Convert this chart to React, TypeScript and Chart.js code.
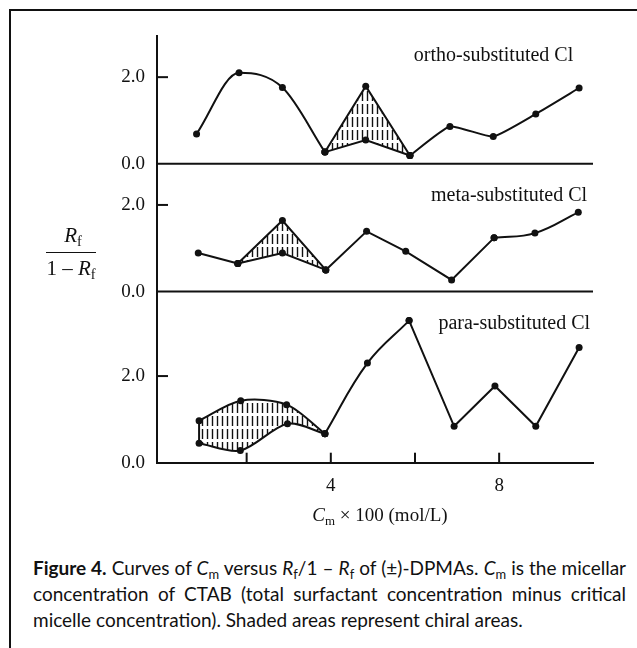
import React, { useEffect, useRef } from 'react';
import { Chart, registerables } from 'chart.js';

Chart.register(...registerables);

const INK = '#111111';
const SERIF = '"Liberation Serif", "Times New Roman", serif';

// ---------- data ----------
// ortho-substituted Cl
const ORTHO_ARC_X = [0.81, 1.82, 2.85, 3.86];
const ORTHO_ARC_Y = [0.69, 2.1, 1.76, 0.27];
const ORTHO_LOOP_X = [3.86, 4.83, 5.88];
const ORTHO_UPPER_Y = [0.27, 1.79, 0.19];
const ORTHO_LOWER_Y = [0.27, 0.55, 0.19];
const ORTHO_TAIL_X = [5.88, 6.83, 7.86, 8.87, 9.9];
const ORTHO_TAIL_Y = [0.19, 0.86, 0.63, 1.15, 1.75];

// meta-substituted Cl
const META_HEAD_X = [0.85, 1.79];
const META_HEAD_Y = [0.89, 0.65];
const META_LOOP_X = [1.79, 2.85, 3.88];
const META_UPPER_Y = [0.65, 1.64, 0.5];
const META_LOWER_Y = [0.65, 0.89, 0.5];
const META_MID_X = [3.88, 4.85, 5.78, 6.87, 7.88];
const META_MID_Y = [0.5, 1.39, 0.93, 0.27, 1.24];
const META_TAIL_X = [7.88, 8.85, 9.88];
const META_TAIL_Y = [1.24, 1.35, 1.83];

// para-substituted Cl
const PARA_UPPER_X = [0.87, 1.86, 2.95, 3.86];
const PARA_UPPER_Y = [0.97, 1.43, 1.34, 0.67];
const PARA_LOWER_X = [0.87, 1.85, 2.97, 3.86];
const PARA_LOWER_Y = [0.45, 0.28, 0.9, 0.67];
const PARA_EDGE_X = [0.87, 0.87];
const PARA_EDGE_Y = [0.97, 0.45];
const PARA_RISE_X = [3.86, 4.87, 5.86];
const PARA_RISE_Y = [0.67, 2.3, 3.28];
const PARA_TAIL_X = [5.86, 6.93, 7.9, 8.87, 9.9];
const PARA_TAIL_Y = [3.28, 0.84, 1.77, 0.84, 2.66];

// ticks & labels
const X_TICKS = [2, 4, 6, 8];
const X_TICK_LABELS = [4, 8];
const Y_TICKS = [0, 2];
const PANEL_TITLES = ['ortho-substituted Cl', 'meta-substituted Cl', 'para-substituted Cl'];
const PANEL_AXES = ['yO', 'yM', 'yP'];

const pts = (xs: number[], ys: number[]) => xs.map((x, i) => ({ x, y: ys[i] }));

function makeHatch(): CanvasPattern | string {
  const c = document.createElement('canvas');
  c.width = 5;
  c.height = 13;
  const g = c.getContext('2d');
  if (!g) return 'rgba(0,0,0,0.3)';
  g.strokeStyle = INK;
  g.lineWidth = 1.4;
  g.beginPath();
  g.moveTo(2.5, 0);
  g.lineTo(2.5, 10);
  g.stroke();
  return g.createPattern(c, 'repeat') || 'rgba(0,0,0,0.3)';
}

const decorPlugin = {
  id: 'decor',
  afterDraw(chart: any, _args: any, opts: any) {
    const { ctx, chartArea, scales } = chart;
    const { left, right, bottom } = chartArea;
    ctx.save();
    ctx.strokeStyle = INK;
    ctx.lineWidth = 2;
    const seg = (x1: number, y1: number, x2: number, y2: number) => {
      ctx.beginPath();
      ctx.moveTo(x1, y1);
      ctx.lineTo(x2, y2);
      ctx.stroke();
    };
    ['yO', 'yM'].forEach((id) => {
      const y = scales[id].getPixelForValue(0);
      seg(left, y, right, y);
    });
    PANEL_AXES.forEach((id) => {
      const y = scales[id].getPixelForValue(2);
      seg(left, y, left + 11, y);
    });
    X_TICKS.forEach((v) => {
      const x = scales.x.getPixelForValue(v);
      seg(x, bottom, x, bottom - 10);
    });
    ctx.fillStyle = INK;
    ctx.font = `20px ${SERIF}`;
    ctx.textAlign = 'right';
    ctx.textBaseline = 'alphabetic';
    PANEL_TITLES.forEach((t, i) => {
      const a = opts.anchors[i];
      ctx.fillText(t, scales.x.getPixelForValue(a.x), scales[PANEL_AXES[i]].getPixelForValue(a.y));
    });
    ctx.restore();
  },
};

function yScale(weight: number, max: number, order: number) {
  return {
    type: 'linear',
    position: 'left',
    stack: 'panels',
    stackWeight: weight,
    weight: order,
    min: 0,
    max,
    afterBuildTicks: (s: any) => {
      s.ticks = Y_TICKS.map((v) => ({ value: v }));
    },
    afterFit: (s: any) => {
      s.width = 157;
    },
    grid: { display: false, drawTicks: false },
    border: { display: true, color: INK, width: 2 },
    ticks: {
      autoSkip: false,
      padding: 12,
      color: INK,
      font: { family: SERIF, size: 19 },
      callback: (v: number) => v.toFixed(1),
    },
  };
}

export default function App() {
  const ref = useRef<HTMLCanvasElement | null>(null);

  useEffect(() => {
    if (!ref.current) return;
    const hatch = makeHatch();
    const base = (xs: number[], ys: number[], axis: string, tension: number, extra: any = {}) => ({
      data: pts(xs, ys),
      yAxisID: axis,
      tension,
      borderColor: INK,
      borderWidth: 2,
      pointRadius: 3.5,
      pointBackgroundColor: INK,
      pointBorderWidth: 0,
      fill: false,
      ...extra,
    });
    const datasets = [
      base(ORTHO_ARC_X, ORTHO_ARC_Y, 'yO', 0.4, { cubicInterpolationMode: 'monotone' }),
      base(ORTHO_LOOP_X, ORTHO_UPPER_Y, 'yO', 0),
      base(ORTHO_LOOP_X, ORTHO_LOWER_Y, 'yO', 0, { fill: '-1', backgroundColor: hatch }),
      base(ORTHO_TAIL_X, ORTHO_TAIL_Y, 'yO', 0.15),
      base(META_HEAD_X, META_HEAD_Y, 'yM', 0),
      base(META_LOOP_X, META_UPPER_Y, 'yM', 0),
      base(META_LOOP_X, META_LOWER_Y, 'yM', 0, { fill: '-1', backgroundColor: hatch }),
      base(META_MID_X, META_MID_Y, 'yM', 0),
      base(META_TAIL_X, META_TAIL_Y, 'yM', 0.4),
      base(PARA_UPPER_X, PARA_UPPER_Y, 'yP', 0.3),
      base(PARA_LOWER_X, PARA_LOWER_Y, 'yP', 0.3, { fill: '-1', backgroundColor: hatch }),
      base(PARA_EDGE_X, PARA_EDGE_Y, 'yP', 0, { pointRadius: 0 }),
      base(PARA_RISE_X, PARA_RISE_Y, 'yP', 0.4),
      base(PARA_TAIL_X, PARA_TAIL_Y, 'yP', 0),
    ];
    const chart = new Chart(ref.current, {
      type: 'line',
      data: { datasets } as any,
      plugins: [decorPlugin as any],
      options: {
        animation: false,
        responsive: false,
        maintainAspectRatio: false,
        layout: { padding: { top: 36, right: 44, left: 0, bottom: 0 } },
        plugins: {
          legend: { display: false },
          tooltip: { enabled: false },
          decor: {
            anchors: [
              { x: 9.76, y: 2.37 },
              { x: 10.09, y: 2.09 },
              { x: 10.16, y: 3.09 },
            ],
          },
        } as any,
        scales: {
          x: {
            type: 'linear',
            min: -0.13,
            max: 10.23,
            afterBuildTicks: (s: any) => {
              s.ticks = X_TICKS.map((v) => ({ value: v }));
            },
            afterFit: (s: any) => {
              s.height = 77.3;
            },
            grid: { display: false, drawTicks: false },
            border: { display: true, color: INK, width: 2 },
            ticks: {
              autoSkip: false,
              maxRotation: 0,
              padding: 12,
              color: INK,
              font: { family: SERIF, size: 19 },
              callback: (v: number) => (X_TICK_LABELS.includes(v) ? String(v) : ''),
            },
          },
          yP: yScale(3.95, 3.95, 1),
          yM: yScale(2.95, 2.95, 2),
          yO: yScale(2.95, 2.95, 3),
        } as any,
      },
    });
    return () => chart.destroy();
  }, []);

  const sub: React.CSSProperties = { fontSize: '0.68em', verticalAlign: '-0.28em', lineHeight: 0, fontStyle: 'normal' };
  const serifText: React.CSSProperties = { position: 'absolute', fontFamily: SERIF, fontSize: 19, lineHeight: '19px', color: INK, whiteSpace: 'nowrap' };
  const fracText: React.CSSProperties = { ...serifText, fontSize: 21, lineHeight: '21px' };

  return (
    <div style={{ position: 'absolute', left: 0, top: 0, width: 637, height: 648, background: '#fff', overflow: 'hidden' }}>
      {/* frame */}
      <div style={{ position: 'absolute', left: 9, top: 9, width: 628, height: 2, background: INK }} />
      <div style={{ position: 'absolute', left: 9, top: 9, width: 2, height: 639, background: INK }} />

      <canvas ref={ref} width={637} height={540} style={{ position: 'absolute', left: 0, top: 0, width: 637, height: 540 }} />

      {/* y-axis title as a fraction */}
      <div style={{ ...fracText, left: 37, width: 72, top: 225, textAlign: 'center' }}>
        <i>R</i><span style={sub}>f</span>
      </div>
      <div style={{ position: 'absolute', left: 46, top: 252, width: 50, height: 0, borderTop: `1.5px solid ${INK}` }} />
      <div style={{ ...fracText, left: 35, width: 72, top: 258, textAlign: 'center' }}>
        1 – <i>R</i><span style={sub}>f</span>
      </div>

      {/* x-axis title */}
      <div style={{ ...serifText, left: 280, width: 200, top: 505, textAlign: 'center' }}>
        <i>C</i><span style={sub}>m</span> × 100 (mol/L)
      </div>

      {/* caption */}
      <div style={{ position: 'absolute', left: 33, top: 555, width: 593, fontFamily: 'Lato, "Noto Sans", sans-serif', fontSize: 19, lineHeight: '26px', color: INK }}>
        <div style={{ textAlign: 'justify', textAlignLast: 'justify', whiteSpace: 'nowrap' }}>
          <b>Figure 4.</b> Curves of <i>C</i><span style={sub}>m</span> versus <i>R</i><span style={sub}>f</span>/1 – <i>R</i><span style={sub}>f</span> of (±)-DPMAs. <i>C</i><span style={sub}>m</span> is the micellar
        </div>
        <div style={{ textAlign: 'justify', textAlignLast: 'justify' }}>
          concentration of CTAB (total surfactant concentration minus critical
        </div>
        <div style={{ whiteSpace: 'nowrap' }}>micelle concentration). Shaded areas represent chiral areas.</div>
      </div>
    </div>
  );
}
